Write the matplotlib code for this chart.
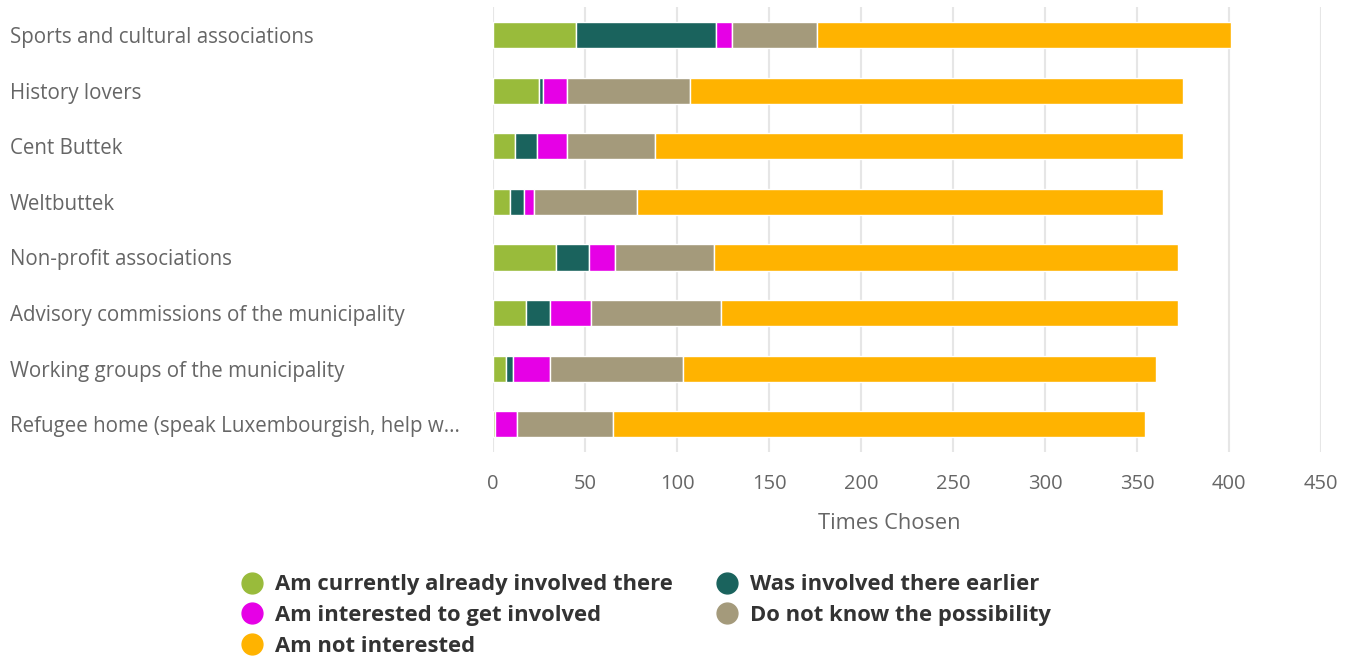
import numpy as np
import matplotlib.pyplot as plt
from matplotlib.lines import Line2D

plt.rcParams['font.family'] = ['Open Sans', 'DejaVu Sans']

# categories, top to bottom
categories = [
    "Sports and cultural associations",
    "History lovers",
    "Cent Buttek",
    "Weltbuttek",
    "Non-profit associations",
    "Advisory commissions of the municipality",
    "Working groups of the municipality",
    "Refugee home (speak Luxembourgish, help w...",
]

# counts per answer
involved_now = [45, 25, 12, 9, 34, 18, 7, 1]
involved_before = [76, 2, 12, 8, 18, 13, 4, 0]
interested = [9, 13, 16, 5, 14, 22, 20, 12]
unknown = [46, 67, 48, 56, 54, 71, 72, 52]
not_interested = [225, 268, 287, 286, 252, 248, 257, 289]

series_names = [
    "Am currently already involved there",
    "Was involved there earlier",
    "Am interested to get involved",
    "Do not know the possibility",
    "Am not interested",
]
series_data = [involved_now, involved_before, interested, unknown, not_interested]
colors = ['#99bb3b', '#1a635d', '#e600e6', '#a49a7b', '#ffb300']

fig = plt.figure(figsize=(13.51, 6.6), dpi=100)
ax = fig.add_axes([0.365, 0.315, 0.613, 0.674])

y = np.arange(len(categories))
left = np.zeros(len(categories))
for name, vals, col in zip(series_names, series_data, colors):
    vals = np.array(vals, dtype=float)
    ax.barh(y, vals, left=left, height=0.47, color=col, edgecolor='white',
            linewidth=1, label=name, zorder=3)
    left += vals

ax.set_xlim(0, 450)
ax.set_ylim(len(categories) - 0.5, -0.5)
ax.set_xticks(np.arange(0, 451, 50))
ax.set_yticks(y)
ax.set_yticklabels(categories, ha='left', fontsize=14.8, color='#666666')
ax.tick_params(axis='y', length=0, pad=348)
ax.tick_params(axis='x', length=0, pad=16, labelsize=14.5, labelcolor='#666666')
ax.grid(axis='x', color='#e6e6e6', linewidth=1.5, zorder=0)
for s in ax.spines.values():
    s.set_visible(False)
ax.set_xlabel('Times Chosen', fontsize=15.7, color='#666666')
ax.xaxis.set_label_coords(0.478, -0.136)

# legend: column-major order so rows read green/teal, magenta/gray, orange
order = [0, 2, 4, 1, 3]
handles = [Line2D([], [], marker='o', linestyle='', markersize=15,
                  markerfacecolor=colors[i], markeredgecolor=colors[i])
           for i in order]
labels = [series_names[i] for i in order]
fig.legend(handles, labels, ncol=2, loc='upper left',
           bbox_to_anchor=(0.177, 0.130), frameon=False,
           prop={'weight': 'bold', 'size': 15.8}, labelcolor='#333333',
           handletextpad=0.45, columnspacing=1.85, labelspacing=0.45,
           borderaxespad=0, borderpad=0, handlelength=1.2)

fig.savefig('out.png', dpi=100)
